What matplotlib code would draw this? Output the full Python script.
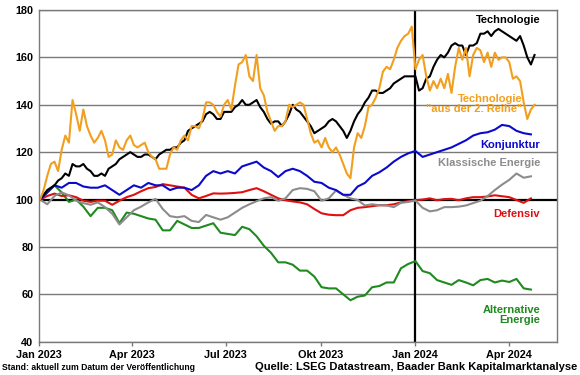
import numpy as np
import matplotlib
matplotlib.use("Agg")
import matplotlib.pyplot as plt
import matplotlib.dates as mdates

plt.rcParams['font.family'] = ['Liberation Sans', 'DejaVu Sans']
plt.rcParams['font.weight'] = 'bold'

# ---------------- data ----------------
start = np.datetime64('2023-01-02T00')
dates_fine = start + np.arange(138) * np.timedelta64(84, 'h')   # every 3.5 days
dates_week = start + np.arange(69) * np.timedelta64(7, 'D')     # weekly

tech = [100, 102, 104, 105, 106, 108, 109, 111, 110, 115, 114, 114, 115, 113, 112, 110, 110, 111, 110, 113,
        114, 115, 117, 118, 119, 120, 119, 118, 118, 119, 119, 118, 117, 119, 120, 121, 121, 122, 122, 124,
        125, 129, 130, 131, 132, 133, 136, 137, 136, 134, 134, 137, 137, 137, 139, 140, 142, 140, 140, 141,
        142, 139, 137, 134, 132, 133, 133, 131, 133, 136, 140, 138, 137, 135, 133, 131, 128, 129, 130, 131,
        133, 134, 133, 131, 129, 126, 129, 133, 136, 138, 141, 143, 146, 146, 145, 145, 146, 147, 149, 150,
        151, 152, 152, 152, 152, 146, 147, 151, 152, 156, 159, 161, 160, 162, 165, 166, 165, 165, 161, 165,
        165, 166, 170, 170, 171, 169, 171, 172, 171, 170, 169, 168, 167, 169, 165, 160, 157, 161]

tech_small = [100, 104, 110, 115, 116, 112, 121, 127, 124, 142, 136, 129, 138, 131, 127, 124, 126, 129, 125, 118,
              119, 125, 122, 121, 125, 127, 123, 122, 123, 124, 120, 118, 117, 113, 113, 113, 119, 122, 121, 125,
              127, 125, 131, 131, 130, 134, 141, 141, 140, 137, 135, 140, 142, 138, 148, 157, 158, 161, 152, 150,
              161, 147, 144, 137, 133, 129, 131, 131, 133, 140, 139, 140, 141, 140, 134, 128, 124, 125, 122, 126,
              122, 120, 122, 119, 115, 111, 109, 122, 128, 126, 131, 139, 140, 143, 147, 154, 156, 155, 159, 164,
              167, 169, 170, 173, 155, 159, 161, 152, 146, 150, 147, 151, 147, 153, 145, 156, 164, 159, 164, 152,
              161, 164, 163, 158, 162, 156, 162, 159, 160, 160, 158, 151, 152, 150, 141, 134, 138, 140]

konjunktur = [100, 103, 106, 105, 107, 107, 105.5, 105, 105, 106, 104, 102, 104, 106, 105, 107, 106, 106, 104, 105,
              105, 104, 106, 110, 112, 111, 112, 111, 114, 115, 116, 113.5, 112, 109.5, 112, 113, 112, 110, 107.5, 107,
              105, 104, 102, 102, 105.5, 107, 110, 111.5, 113.5, 116, 118, 119.5, 120.5, 118, 119, 120, 121, 122, 123.5, 125,
              127, 128, 128.4, 129.5, 131.5, 131, 129, 128, 127.5]

defensiv = [100, 101.5, 102.5, 101.5, 101.8, 101, 99.5, 99, 99.5, 99.5, 97.8, 99.5, 101, 102, 103.5, 104.8, 105.3, 106.5, 106, 105.5,
            105, 102, 100.5, 101.5, 102.6, 102.5, 102.6, 102.8, 103.1, 104, 104.8, 103.5, 102, 100.5, 99.7, 99.2, 98.8, 98, 96, 94.2,
            93.6, 93.4, 93.4, 95.5, 96.5, 96.8, 97.2, 97.6, 97.6, 98, 98.8, 99.3, 99.7, 100, 100.5, 99.7, 100.2, 100.3, 99.7, 100.5,
            101, 101, 101.3, 101.8, 101.4, 101, 99.8, 98.6, 100.5]

klassisch = [100, 98, 101.5, 103, 101.8, 99.5, 98.5, 97.8, 98.8, 96.8, 94, 89.5, 92.5, 95.5, 97, 98.8, 100.3, 96, 93, 92.5,
             93, 91, 90.5, 93.5, 92.5, 91.5, 92.5, 94.5, 96.5, 98, 99.3, 100.5, 101, 99.5, 100.5, 104, 104.8, 104.5, 103.5, 99.5,
             100.5, 103.8, 102, 100.5, 99.8, 97.5, 98, 97.6, 97.5, 96.8, 98.6, 99, 99.6, 96.5, 95, 95.5, 96.8, 96.8, 97, 97.5,
             98.5, 99.5, 101.5, 104, 106.3, 108.3, 111, 109.2, 109.8]

alternativ = [100, 103, 106, 103, 99, 100, 97, 93, 96.5, 96.5, 95.5, 90, 94.5, 94, 93, 92, 91.5, 87, 87, 91,
              89.5, 88, 88, 89, 90, 86, 85.5, 85, 88.5, 87.5, 84.5, 80.5, 77.5, 73.5, 73.5, 72.5, 70, 70, 67.5, 63,
              62.5, 62.5, 60, 57.5, 59, 59.5, 63, 63.5, 65, 65, 71, 72.8, 74, 69.8, 68.9, 66, 65, 64, 66, 65,
              63.8, 66, 66.5, 65, 65.8, 65.2, 66.5, 62.5, 62]

tick_dates = ['2023-01-01', '2023-04-01', '2023-07-01', '2023-10-01', '2024-01-01', '2024-04-01']
tick_labels = ['Jan 2023', 'Apr 2023', 'Jul 2023', 'Okt 2023', 'Jan 2024', 'Apr 2024']
y_ticks = [40, 60, 80, 100, 120, 140, 160, 180]

c_orange = '#F29F1F'
c_blue = '#0A0ACC'
c_red = '#E01010'
c_gray = '#8C8C8C'
c_green = '#1F8A1F'

# ---------------- figure ----------------
fig = plt.figure(figsize=(5.8, 3.75), dpi=100)
ax = fig.add_axes([39 / 580, 1 - 341.7 / 375, (556.7 - 39) / 580, (341.7 - 10) / 375])

ax.set_ylim(40, 180)
ax.set_xlim(np.datetime64('2023-01-01'), np.datetime64('2024-05-17'))

for y in y_ticks:
    if y != 100:
        ax.axhline(y, color='#7A7A7A', lw=1.0, zorder=1)
ax.axhline(100, color='black', lw=1.6, zorder=1.5)
ax.axvline(np.datetime64('2024-01-01'), color='black', lw=1.6, zorder=1.5)

lw = 1.5
ax.plot(dates_week, alternativ, color=c_green, lw=lw, zorder=2)
ax.plot(dates_week, defensiv, color=c_red, lw=lw, zorder=2.1)
ax.plot(dates_week, klassisch, color=c_gray, lw=lw, zorder=2.2)
ax.plot(dates_week, konjunktur, color=c_blue, lw=lw, zorder=2.3)
ax.plot(dates_fine, tech, color='black', lw=lw, zorder=2.4)
ax.plot(dates_fine, tech_small, color=c_orange, lw=lw, zorder=2.5)

ax.set_yticks(y_ticks)
ax.set_yticklabels([str(v) for v in y_ticks], fontsize=7.8, fontweight='bold')
ax.set_xticks([np.datetime64(d) for d in tick_dates])
ax.set_xticklabels(tick_labels, fontsize=7.8, fontweight='bold')
ax.tick_params(axis='y', length=0, pad=4)
ax.tick_params(axis='x', length=3, width=1, color='#7A7A7A', pad=3, direction='out')

for s in ax.spines.values():
    s.set_color('#7A7A7A')
    s.set_linewidth(1.0)

# series labels
def lab(txt, x, y, col):
    ax.annotate(txt, xy=(x / 580, 1 - y / 375), xycoords='figure fraction',
                ha='right', va='center', color=col, fontsize=8, fontweight='bold',
                linespacing=1.05, zorder=5)

lab('Technologie', 540, 20, 'black')
lab('Technologie\n"aus der 2. Reihe"', 522, 104, c_orange)
lab('Konjunktur', 540, 145, c_blue)
lab('Klassische Energie', 540, 162.5, c_gray)
lab('Defensiv', 540, 214, c_red)
lab('Alternative\nEnergie', 540, 315, c_green)

fig.text(2 / 580, 1 - 368 / 375, 'Stand: aktuell zum Datum der Veröffentlichung',
         ha='left', va='center', fontsize=6.2, fontweight='bold', color='black')
fig.text(577 / 580, 1 - 367 / 375, 'Quelle: LSEG Datastream, Baader Bank Kapitalmarktanalyse',
         ha='right', va='center', fontsize=8.05, fontweight='bold', color='black')

fig.savefig('out.png', dpi=100)
